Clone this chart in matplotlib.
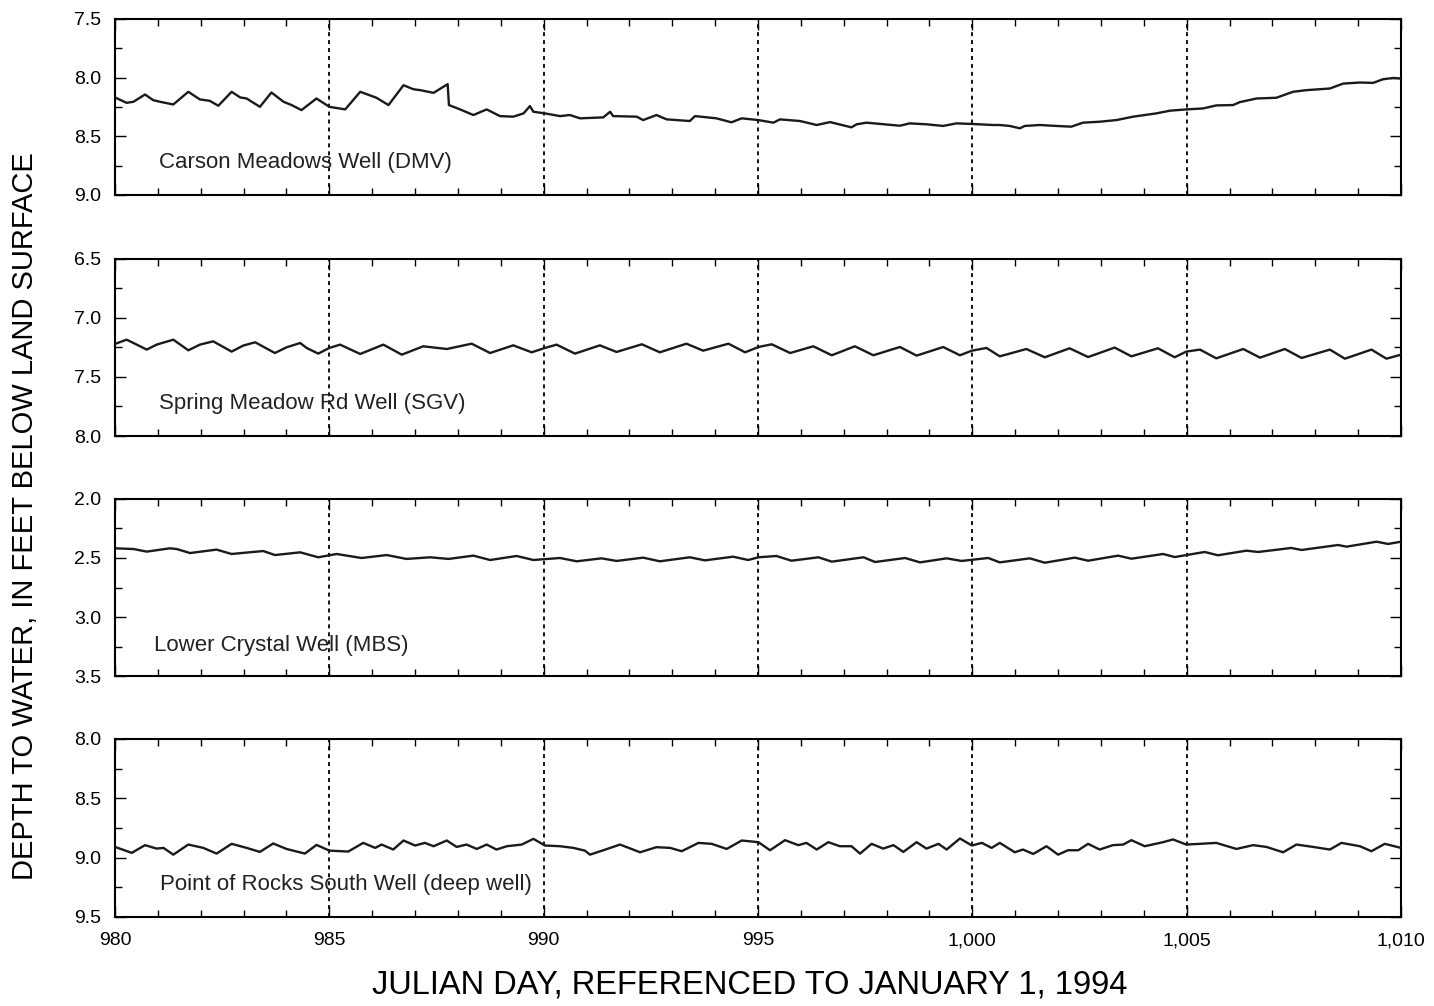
import matplotlib
matplotlib.use("Agg")
import matplotlib.pyplot as plt
from matplotlib.ticker import MultipleLocator, FuncFormatter

plt.rcParams["font.family"] = ["Liberation Sans", "DejaVu Sans"]

# Carson Meadows Well (DMV)
dmv_day = [980.00, 980.27, 980.43, 980.70, 980.89, 981.05, 981.36, 981.71, 981.98, 982.21,
           982.41, 982.72, 982.92, 983.07, 983.38, 983.65, 983.93, 984.12, 984.35, 984.70,
           985.00, 985.37, 985.72, 986.10, 986.38, 986.73, 986.96, 987.12, 987.43, 987.76,
           987.79, 988.05, 988.36, 988.67, 988.98, 989.29, 989.53, 989.68, 989.76, 990.03,
           990.38, 990.61, 990.85, 991.39, 991.55, 991.62, 992.17, 992.32, 992.63, 992.87,
           993.41, 993.53, 994.03, 994.38, 994.62, 995.01, 995.36, 995.51, 995.98, 996.37,
           996.68, 997.18, 997.30, 997.53, 998.31, 998.54, 998.93, 999.32, 999.63, 999.99,
           1000.49, 1000.64, 1000.87, 1001.11, 1001.22, 1001.57, 1001.96, 1002.31, 1002.58, 1002.97,
           1003.36, 1003.75, 1004.29, 1004.61, 1004.99, 1005.38, 1005.69, 1006.08, 1006.24, 1006.63,
           1007.09, 1007.48, 1007.79, 1008.34, 1008.65, 1009.04, 1009.35, 1009.58, 1009.82, 1010.00]
dmv_depth = [8.169, 8.215, 8.206, 8.144, 8.192, 8.206, 8.229, 8.121, 8.186, 8.198,
             8.240, 8.121, 8.169, 8.178, 8.249, 8.127, 8.206, 8.234, 8.277, 8.178,
             8.249, 8.271, 8.121, 8.172, 8.234, 8.065, 8.099, 8.107, 8.130, 8.056,
             8.234, 8.271, 8.319, 8.271, 8.328, 8.333, 8.305, 8.243, 8.291, 8.305,
             8.328, 8.319, 8.347, 8.339, 8.291, 8.328, 8.333, 8.362, 8.319, 8.356,
             8.370, 8.328, 8.347, 8.381, 8.347, 8.362, 8.384, 8.356, 8.370, 8.404,
             8.379, 8.424, 8.398, 8.384, 8.410, 8.390, 8.398, 8.412, 8.390, 8.395,
             8.404, 8.404, 8.412, 8.432, 8.412, 8.404, 8.412, 8.418, 8.384, 8.376,
             8.362, 8.333, 8.305, 8.282, 8.271, 8.263, 8.237, 8.234, 8.209, 8.178,
             8.172, 8.121, 8.107, 8.093, 8.051, 8.042, 8.045, 8.014, 8.003, 8.008]

# Spring Meadow Rd Well (SGV)
sgv_day = [980.00, 980.27, 980.43, 980.74, 980.97, 981.36, 981.71, 981.98, 982.29, 982.72,
           982.99, 983.27, 983.73, 984.00, 984.32, 984.47, 984.74, 985.00, 985.25, 985.72,
           986.26, 986.69, 987.19, 987.74, 988.32, 988.75, 989.29, 989.72, 990.03, 990.30,
           990.38, 990.73, 991.31, 991.70, 992.29, 992.71, 993.33, 993.72, 994.31, 994.70,
           995.01, 995.32, 995.75, 996.29, 996.72, 997.26, 997.69, 998.31, 998.70, 999.32,
           999.71, 999.99, 1000.33, 1000.64, 1001.26, 1001.69, 1002.27, 1002.70, 1003.32, 1003.71,
           1004.33, 1004.72, 1004.99, 1005.31, 1005.69, 1006.32, 1006.71, 1007.29, 1007.68, 1008.34,
           1008.69, 1009.31, 1009.66, 1010.00]
sgv_depth = [7.220, 7.184, 7.212, 7.268, 7.226, 7.184, 7.274, 7.226, 7.198, 7.285,
             7.234, 7.206, 7.297, 7.249, 7.212, 7.254, 7.302, 7.254, 7.226, 7.305,
             7.226, 7.311, 7.240, 7.263, 7.218, 7.297, 7.232, 7.291, 7.254, 7.226,
             7.240, 7.302, 7.232, 7.288, 7.223, 7.291, 7.218, 7.277, 7.218, 7.291,
             7.246, 7.223, 7.297, 7.240, 7.316, 7.240, 7.316, 7.246, 7.319, 7.246,
             7.316, 7.277, 7.254, 7.325, 7.263, 7.333, 7.257, 7.331, 7.251, 7.325,
             7.257, 7.333, 7.285, 7.268, 7.342, 7.263, 7.336, 7.263, 7.339, 7.268,
             7.345, 7.268, 7.345, 7.311]

# Lower Crystal Well (MBS)
mbs_day = [980.00, 980.43, 980.74, 981.28, 981.44, 981.75, 982.37, 982.72, 983.46, 983.73,
           984.32, 984.74, 985.17, 985.75, 986.34, 986.80, 987.35, 987.78, 988.36, 988.75,
           989.37, 989.76, 990.38, 990.77, 991.35, 991.70, 992.32, 992.71, 993.41, 993.76,
           994.42, 994.77, 995.01, 995.43, 995.78, 996.41, 996.72, 997.46, 997.73, 998.43,
           998.78, 999.40, 999.75, 1000.37, 1000.64, 1001.34, 1001.69, 1002.39, 1002.70, 1003.40,
           1003.71, 1004.45, 1004.72, 1005.42, 1005.73, 1006.39, 1006.67, 1007.44, 1007.68, 1008.53,
           1008.73, 1009.43, 1009.70, 1010.00]
mbs_depth = [2.418, 2.424, 2.446, 2.418, 2.424, 2.458, 2.429, 2.466, 2.441, 2.475,
             2.452, 2.494, 2.466, 2.500, 2.475, 2.508, 2.494, 2.508, 2.480, 2.517,
             2.483, 2.517, 2.500, 2.528, 2.503, 2.525, 2.497, 2.528, 2.494, 2.520,
             2.489, 2.517, 2.494, 2.483, 2.523, 2.494, 2.531, 2.494, 2.534, 2.500,
             2.537, 2.503, 2.525, 2.500, 2.537, 2.503, 2.540, 2.497, 2.523, 2.480,
             2.506, 2.466, 2.492, 2.449, 2.477, 2.438, 2.449, 2.415, 2.432, 2.390,
             2.404, 2.362, 2.381, 2.362]

# Point of Rocks South Well (deep well)
prs_day = [980.00, 980.39, 980.70, 980.97, 981.13, 981.36, 981.71, 982.06, 982.37, 982.72,
           983.07, 983.38, 983.69, 984.00, 984.43, 984.70, 985.00, 985.44, 985.79, 986.07,
           986.22, 986.49, 986.73, 987.00, 987.23, 987.43, 987.74, 987.97, 988.20, 988.44,
           988.67, 988.90, 989.14, 989.49, 989.76, 990.03, 990.38, 990.69, 990.96, 991.08,
           991.39, 991.78, 992.25, 992.63, 992.95, 993.22, 993.61, 993.92, 994.27, 994.62,
           995.01, 995.28, 995.63, 995.94, 996.13, 996.37, 996.64, 996.91, 997.18, 997.38,
           997.65, 997.92, 998.16, 998.39, 998.70, 998.93, 999.21, 999.40, 999.71, 999.99,
           1000.22, 1000.45, 1000.64, 1000.99, 1001.18, 1001.42, 1001.73, 1002.00, 1002.23, 1002.47,
           1002.70, 1002.97, 1003.28, 1003.52, 1003.71, 1004.02, 1004.45, 1004.68, 1004.99, 1005.31,
           1005.69, 1006.16, 1006.55, 1006.86, 1007.25, 1007.56, 1007.95, 1008.34, 1008.61, 1009.04,
           1009.31, 1009.62, 1010.00]
prs_depth = [8.910, 8.960, 8.895, 8.924, 8.918, 8.975, 8.890, 8.918, 8.966, 8.884,
             8.918, 8.952, 8.881, 8.927, 8.966, 8.893, 8.941, 8.949, 8.876, 8.918,
             8.890, 8.932, 8.856, 8.898, 8.876, 8.904, 8.856, 8.910, 8.890, 8.927,
             8.890, 8.932, 8.904, 8.890, 8.842, 8.898, 8.904, 8.918, 8.941, 8.975,
             8.938, 8.890, 8.955, 8.912, 8.918, 8.946, 8.876, 8.884, 8.927, 8.856,
             8.870, 8.938, 8.853, 8.895, 8.876, 8.932, 8.870, 8.904, 8.904, 8.966,
             8.884, 8.924, 8.895, 8.952, 8.870, 8.924, 8.884, 8.932, 8.839, 8.898,
             8.876, 8.918, 8.876, 8.955, 8.932, 8.969, 8.904, 8.975, 8.938, 8.938,
             8.884, 8.932, 8.895, 8.890, 8.853, 8.904, 8.870, 8.847, 8.890, 8.884,
             8.876, 8.927, 8.895, 8.910, 8.955, 8.890, 8.910, 8.932, 8.876, 8.904,
             8.946, 8.884, 8.918]

well_names = ["Carson Meadows Well (DMV)", "Spring Meadow Rd Well (SGV)",
              "Lower Crystal Well (MBS)", "Point of Rocks South Well (deep well)"]
y_ranges = [(7.5, 9.0), (6.5, 8.0), (2.0, 3.5), (8.0, 9.5)]
grid_days = [985, 990, 995, 1000, 1005]

series = [(dmv_day, dmv_depth), (sgv_day, sgv_depth), (mbs_day, mbs_depth), (prs_day, prs_depth)]

fig = plt.figure(figsize=(14.34, 10.06), dpi=100)

# panel boxes in figure fractions
left, width = 0.0802, 0.8968
bottoms = [0.8062, 0.5666, 0.3280, 0.0885]
heights = [0.1750, 0.1760, 0.1760, 0.1770]
label_pos = [(0.034, 0.182), (0.034, 0.186), (0.030, 0.175), (0.035, 0.180)]

axes = []
for i, ((xs, ys), name, (ytop, ybot)) in enumerate(zip(series, well_names, y_ranges)):
    ax = fig.add_axes([left, bottoms[i], width, heights[i]])
    axes.append(ax)
    for d in grid_days:
        ax.axvline(d, color="black", linestyle=(0, (2.2, 2.2)), linewidth=1.3, zorder=1)
    ax.plot(xs, ys, color="#1a1a1a", linewidth=1.7, zorder=3)
    ax.set_xlim(980, 1010)
    ax.set_ylim(ybot, ytop)
    ax.yaxis.set_major_locator(MultipleLocator(0.5))
    ax.yaxis.set_minor_locator(MultipleLocator(0.25))
    ax.yaxis.set_major_formatter(FuncFormatter(lambda v, p: f"{v:.1f}"))
    ax.xaxis.set_major_locator(MultipleLocator(5))
    ax.xaxis.set_minor_locator(MultipleLocator(1))
    ax.xaxis.set_major_formatter(FuncFormatter(lambda v, p: f"{int(round(v)):,}"))
    ax.tick_params(which="both", direction="in", top=True, right=True,
                   labelsize=14, width=1.0, colors="black")
    ax.tick_params(which="major", length=8)
    ax.tick_params(which="minor", length=5)
    ax.tick_params(axis="y", which="major", pad=10)
    ax.tick_params(axis="x", which="major", pad=11)
    for s in ax.spines.values():
        s.set_linewidth(1.5)
    if i < 3:
        ax.tick_params(labelbottom=False)
    ax.text(label_pos[i][0], label_pos[i][1], name, transform=ax.transAxes,
            fontsize=16, ha="left", va="center", color="#222222")

fig.text(0.5225, 0.021, "JULIAN DAY, REFERENCED TO JANUARY 1, 1994",
         ha="center", va="center", fontsize=23.5)
fig.text(0.0175, 0.487, "DEPTH TO WATER, IN FEET BELOW LAND SURFACE",
         ha="center", va="center", rotation=90, fontsize=21)

fig.savefig("out.png", dpi=100)
